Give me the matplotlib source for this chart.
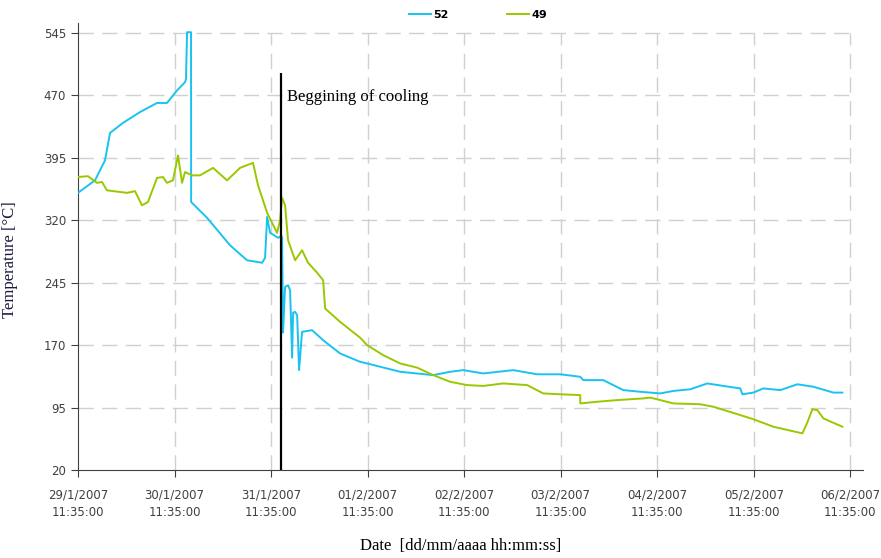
import matplotlib
matplotlib.use("Agg")
import matplotlib.pyplot as plt

# days since 29/1/2007 11:35:00
t52 = [0.0, 0.176, 0.28, 0.332, 0.466, 0.642, 0.819, 0.922, 1.026, 1.109, 1.119, 1.13, 1.171,
       1.172, 1.337, 1.575, 1.751, 1.907, 1.938, 1.959, 1.99, 2.073, 2.104, 2.114, 2.124, 2.145,
       2.176, 2.197, 2.218, 2.228, 2.249, 2.27, 2.29, 2.321, 2.425, 2.539, 2.715, 2.922, 2.995,
       3.337, 3.679, 3.855, 3.99, 4.197, 4.508, 4.756, 4.995, 5.202, 5.233, 5.44, 5.648, 5.824,
       6.031, 6.166, 6.342, 6.518, 6.684, 6.86, 6.881, 6.995, 7.098, 7.275, 7.451, 7.617, 7.824,
       7.917]
v52 = [353, 368, 392, 425, 437, 450, 461, 461, 476, 486, 490, 546, 546,
       342, 323, 290, 272, 269, 275, 324, 305, 299, 301, 300, 185, 240,
       242, 236, 155, 209, 210, 206, 140, 186, 188, 176, 160, 150, 148,
       138, 134, 138, 140, 136, 140, 135, 135, 132, 128, 128, 116, 114,
       112, 115, 117, 124, 121, 118, 111, 113, 118, 116, 123, 120, 113,
       113]

t49 = [0.0, 0.104, 0.197, 0.249, 0.3, 0.508, 0.591, 0.663, 0.725, 0.819, 0.881, 0.922, 0.984,
       1.036, 1.078, 1.109, 1.181, 1.264, 1.399, 1.544, 1.679, 1.813, 1.865, 1.959, 2.062, 2.093,
       2.114, 2.145, 2.176, 2.249, 2.321, 2.383, 2.477, 2.539, 2.56, 2.715, 2.922, 2.995, 3.161,
       3.337, 3.513, 3.679, 3.855, 4.031, 4.197, 4.404, 4.653, 4.819, 4.995, 5.202, 5.203, 5.378,
       5.585, 5.855, 5.927, 6.031, 6.166, 6.446, 6.58, 6.86, 6.995, 7.202, 7.503, 7.554, 7.606,
       7.658, 7.72, 7.917]
v49 = [372, 373, 365, 366, 356, 353, 355, 338, 342, 371, 372, 365, 368,
       398, 365, 378, 374, 374, 383, 368, 383, 389, 362, 329, 305, 320,
       347, 338, 296, 272, 284, 269, 257, 248, 214, 198, 179, 170, 158,
       148, 143, 134, 126, 122, 121, 124, 122, 112, 111, 110, 100, 102,
       104, 106, 107, 104, 100, 99, 96, 86, 81, 72, 64, 77, 93,
       92, 82, 72]

day_ticks = [0, 1, 2, 3, 4, 5, 6, 7, 8]
day_labels = ["29/1/2007\n11:35:00", "30/1/2007\n11:35:00", "31/1/2007\n11:35:00",
              "01/2/2007\n11:35:00", "02/2/2007\n11:35:00", "03/2/2007\n11:35:00",
              "04/2/2007\n11:35:00", "05/2/2007\n11:35:00", "06/2/2007\n11:35:00"]
temp_ticks = [20, 95, 170, 245, 320, 395, 470, 545]

cooling_day = 2.104
cooling_top = 497

fig = plt.figure(figsize=(8.81, 5.58), dpi=100)
ax = fig.add_axes([0.0885, 0.1577, 0.891, 0.801])

ax.plot(t52, v52, color="#19C3F0", lw=1.4, label="52", zorder=3)
ax.plot(t49, v49, color="#99C800", lw=1.4, label="49", zorder=3)
ax.vlines(cooling_day, 20, cooling_top, color="black", lw=1.6, zorder=4)
ax.text(cooling_day + 0.06, 468, "Beggining of cooling", family="Liberation Serif",
        fontsize=12, va="center", ha="left")

# dashed grid, stopping at the last date tick like the original
grid_style = dict(color="#d0d0d0", ls=(0, (11, 6)), lw=1, zorder=1)
ax.hlines(temp_ticks[1:], day_ticks[0], day_ticks[-1], **grid_style)
ax.vlines(day_ticks[1:], temp_ticks[0], temp_ticks[-1], **grid_style)

ax.set_xlim(0, 8.13)
ax.set_ylim(20, 557)
ax.set_xticks(day_ticks)
ax.set_xticklabels(day_labels, fontsize=8.5, color="#404040", linespacing=1.5)
ax.set_yticks(temp_ticks)
ax.tick_params(axis="y", labelsize=8.5, labelcolor="#404040", length=5, color="#404040")
ax.tick_params(axis="x", length=5, color="#404040", pad=8)
for s in ["top", "right"]:
    ax.spines[s].set_visible(False)
for s in ["left", "bottom"]:
    ax.spines[s].set_color("#404040")

ax.set_xlabel("Date  [dd/mm/aaaa hh:mm:ss]", family="Liberation Serif", fontsize=12)
ax.xaxis.set_label_coords(0.487, -0.152)
ax.set_ylabel("Temperature [°C]", family="Liberation Serif", fontsize=12, color="#1a1a40")
ax.yaxis.set_label_coords(-0.076, 0.47)

fig.legend(loc="center", bbox_to_anchor=(478 / 881, 1 - 15 / 558), ncol=2, frameon=False,
           prop={"weight": "bold", "size": 8}, handlelength=2, handletextpad=0.2,
           columnspacing=5.3)

fig.savefig("out.png", dpi=100)
